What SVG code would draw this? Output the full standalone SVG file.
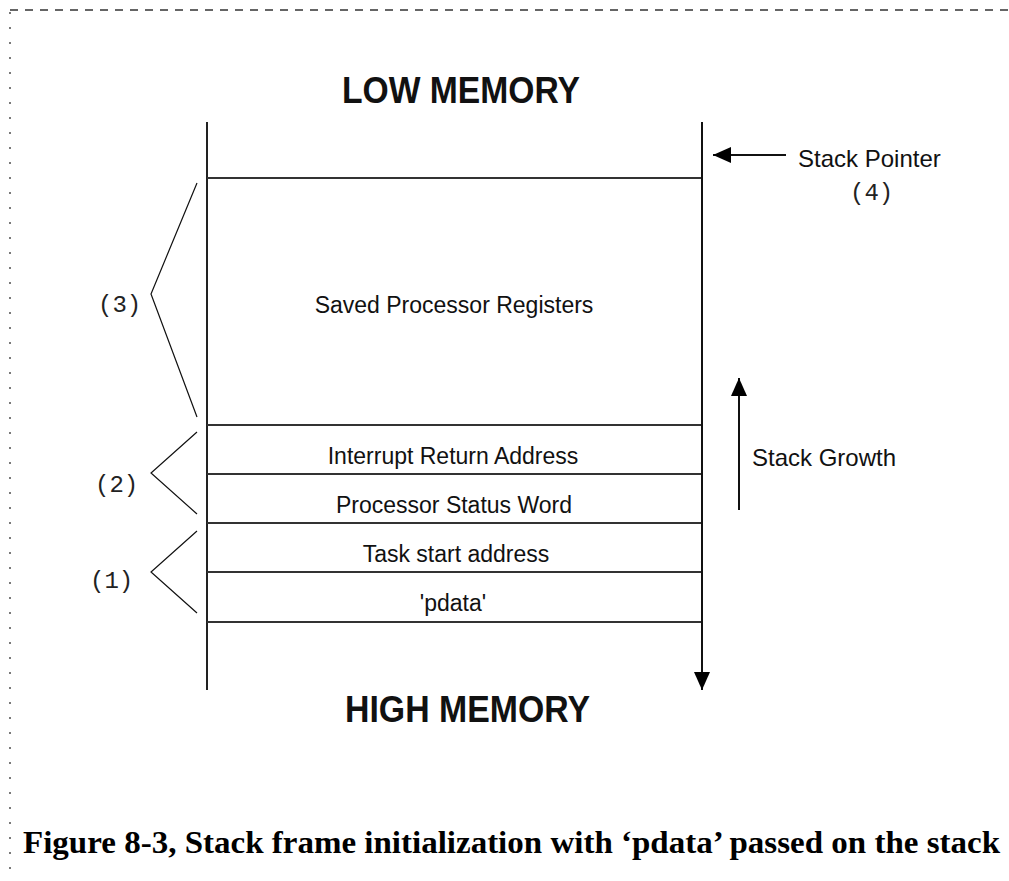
<svg xmlns="http://www.w3.org/2000/svg" width="1009" height="881" viewBox="0 0 1009 881">
  <style>
    .frame { fill: none; stroke: #333; stroke-width: 1.3; }
    .wall { stroke: #222; stroke-width: 2; fill: none; }
    .div { stroke: #333; stroke-width: 2; }
    .brace { fill: none; stroke: #111; stroke-width: 1.2; }
    .cell { font-family: "Liberation Sans", Arial, sans-serif; font-size: 23px; fill: #111; text-anchor: middle; }
    .side { font-family: "Liberation Sans", Arial, sans-serif; font-size: 24px; fill: #111; }
    .head { font-family: "Liberation Sans", Arial, sans-serif; font-size: 36px; font-weight: bold; fill: #111; }
    .num { font-family: "Liberation Mono", "Courier New", monospace; font-size: 24px; fill: #222; }
    .cap { font-family: "Liberation Serif", "Times New Roman", serif; font-size: 31px; font-weight: bold; fill: #000; }
    .arrow { stroke: #111; stroke-width: 2; fill: none; }
  </style>
  <defs>
    <marker id="ah" markerUnits="userSpaceOnUse" viewBox="0 0 18 16" refX="18" refY="8" markerWidth="18" markerHeight="16" orient="auto">
      <path d="M0,0 L18,8 L0,16 z" fill="#000"/>
    </marker>
  </defs>
  <rect width="1009" height="881" fill="#fff"/>
  <!-- page border -->
  <line class="frame" x1="10" y1="10" x2="1009" y2="10" stroke-dasharray="8 7"/>
  <line class="frame" x1="10" y1="12" x2="10" y2="881" stroke-width="2" stroke-dasharray="2 13"/>

  <text class="head" x="342" y="103" textLength="238" lengthAdjust="spacingAndGlyphs">LOW MEMORY</text>
  <text class="head" x="345" y="722" textLength="245" lengthAdjust="spacingAndGlyphs">HIGH MEMORY</text>

  <!-- stack walls -->
  <line class="wall" x1="207" y1="122" x2="207" y2="690"/>

  <g id="stack-top"><line class="div" x1="207" y1="178" x2="702" y2="178"/></g>
  <g id="saved-registers">
    <line class="div" x1="207" y1="425" x2="702" y2="425"/>
    <text class="cell" x="454" y="313">Saved Processor Registers</text>
  </g>
  <g id="interrupt-return">
    <line class="div" x1="207" y1="474" x2="702" y2="474"/>
    <text class="cell" x="453" y="464">Interrupt Return Address</text>
  </g>
  <g id="psw">
    <line class="div" x1="207" y1="523" x2="702" y2="523"/>
    <text class="cell" x="454" y="513">Processor Status Word</text>
  </g>
  <g id="task-start">
    <line class="div" x1="207" y1="572" x2="702" y2="572"/>
    <text class="cell" x="456" y="562">Task start address</text>
  </g>
  <g id="pdata">
    <line class="div" x1="207" y1="622" x2="702" y2="622"/>
    <text class="cell" x="453" y="611">'pdata'</text>
  </g>

  <g id="group3">
    <polyline class="brace" points="197,183 151,294 197,417"/>
    <text class="num" x="98" y="312">(3)</text>
  </g>
  <g id="group2">
    <polyline class="brace" points="197,432 151,473 197,514"/>
    <text class="num" x="95" y="492">(2)</text>
  </g>
  <g id="group1">
    <polyline class="brace" points="197,531 151,572 197,613"/>
    <text class="num" x="90" y="588">(1)</text>
  </g>
  <g id="stack-pointer">
    <text class="side" x="798" y="167">Stack Pointer</text>
    <text class="num" x="850" y="200">(4)</text>
  </g>
  <g id="stack-growth">
    <text class="side" x="752" y="466">Stack Growth</text>
  </g>

  <g id="connectors">
    <line class="arrow" x1="702" y1="122" x2="702" y2="690" marker-end="url(#ah)"/>
    <line class="arrow" x1="786" y1="155" x2="713" y2="155" stroke-width="1.6" marker-end="url(#ah)"/>
    <line class="arrow" x1="739" y1="510" x2="739" y2="378" stroke-width="1.6" marker-end="url(#ah)"/>
  </g>

  <text class="cap" x="23" y="853" textLength="977" lengthAdjust="spacingAndGlyphs">Figure 8-3, Stack frame initialization with ‘pdata’ passed on the stack</text>
</svg>
